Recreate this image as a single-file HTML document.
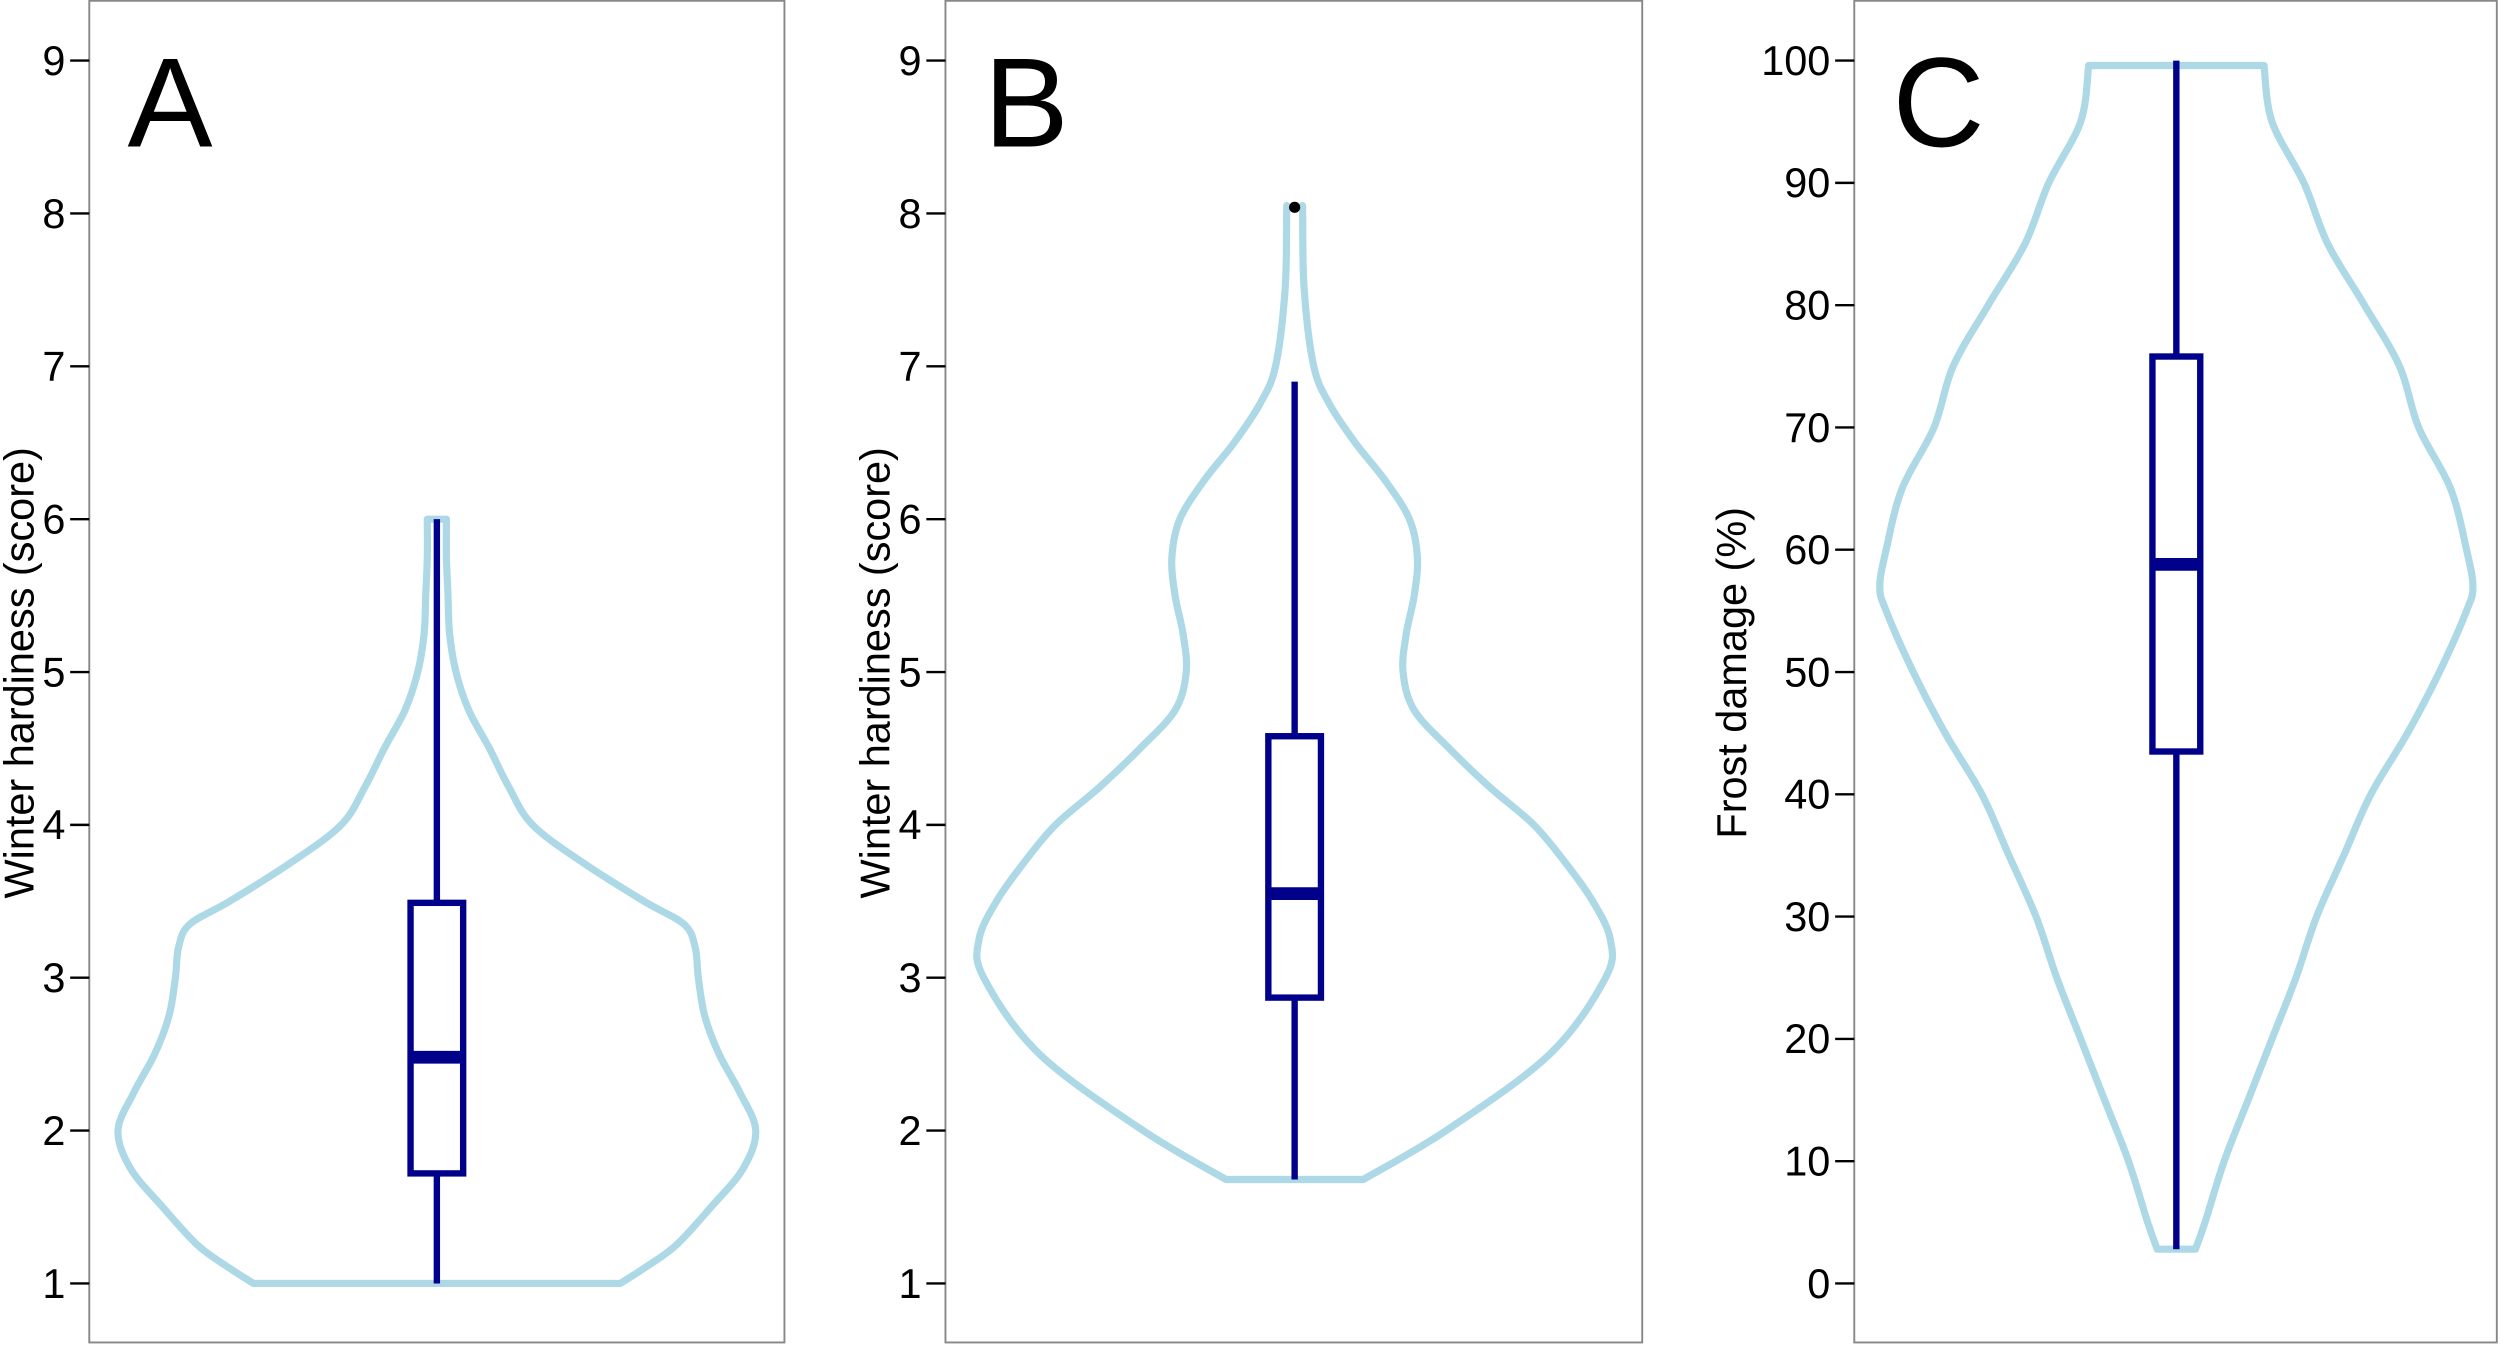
<!DOCTYPE html>
<html><head><meta charset="utf-8"><style>
html,body{margin:0;padding:0;background:#fff;}
svg{display:block;}
text{font-family:"Liberation Sans",Arial,sans-serif;fill:#000;}
</style></head><body>
<svg id="chart" xmlns="http://www.w3.org/2000/svg" width="2500" height="1345" viewBox="0 0 1568 843.6" preserveAspectRatio="none"></svg>
<script>
// Panel A data
const aTicks = [1,2,3,4,5,6,7,8,9];
const aY = [1,1.1,1.25,1.5,1.75,2,2.25,2.5,2.75,3,3.2,3.35,3.5,3.75,4,4.25,4.5,4.75,5,5.25,5.5,5.75,6];
const aDens = [115,130,150,172,192,200,190,177,168,164,162,155,130,92,60,45,33,20,12,8,7,6,6];
const aBox = [1,1.72,2.48,3.49,6];
const aOut = [];
// Panel B data
const bTicks = [1,2,3,4,5,6,7,8,9];
const bY = [1.68,2,2.5,3,3.25,3.5,3.75,4,4.25,4.5,4.75,5,5.25,5.5,5.75,6,6.25,6.5,6.75,7,7.5,8,8.04];
const bDens = [43,95,160,195,198,187,170,150,122,97,75,68,70,75,77,72,57,38,22,12,6,5,5];
const bBox = [1.68,2.87,3.55,4.58,6.9];
const bOut = [8.04];
// Panel C data
const cTicks = [0,10,20,30,40,50,60,70,80,90,100];
const cY = [2.8,5,10,15,20,25,30,35,40,45,50,55,57,60,65,70,75,80,85,90,95,99.6];
const cDens = [12,18,30,45,60,75,88,105,122,145,165,182,186,182,172,152,140,118,95,80,60,55];
const cBox = [2.8,43.5,58.8,75.8,100];
const cOut = [];

const NS="http://www.w3.org/2000/svg";
const svg=document.getElementById('chart');
function el(tag,attrs,parent){const e=document.createElementNS(NS,tag);for(const k in attrs)e.setAttribute(k,attrs[k]);(parent||svg).appendChild(e);return e;}

const panels=[
 {letter:'A',left:56,right:492,cx:274,ticks:aTicks,min:1,max:9,ys:aY,dens:aDens,box:aBox,out:aOut,title:'Winter hardiness (score)',tx:12,bw:16.5},
 {letter:'B',left:593,right:1030,cx:812,ticks:bTicks,min:1,max:9,ys:bY,dens:bDens,box:bBox,out:bOut,title:'Winter hardiness (score)',tx:549,bw:16.5},
 {letter:'C',left:1163,right:1566,cx:1365,ticks:cTicks,min:0,max:100,ys:cY,dens:cDens,box:cBox,out:cOut,title:'Frost damage (%)',tx:1086,bw:15}
];
function smooth(pts){let d='M'+pts[0][0]+','+pts[0][1];for(let i=0;i<pts.length-1;i++){const p0=pts[Math.max(0,i-1)],p1=pts[i],p2=pts[i+1],p3=pts[Math.min(pts.length-1,i+2)];
 d+=' C'+(p1[0]+(p2[0]-p0[0])/6)+','+(p1[1]+(p2[1]-p0[1])/6)+' '+(p2[0]-(p3[0]-p1[0])/6)+','+(p2[1]-(p3[1]-p1[1])/6)+' '+p2[0]+','+p2[1];}return d;}

panels.forEach(p=>{
 const g=el('g',{});
 
 
 const yS=v=>805-(v-p.min)/(p.max-p.min)*767;
 const frame=el('rect',{x:p.left,y:0.5,width:p.right-p.left,height:841.5,fill:'none',stroke:'#888','stroke-width':1.2},g);
 
 
 p.ticks.forEach(t=>{
  const y=yS(t);
  const tk=el('line',{x1:p.left-12,x2:p.left,y1:y,y2:y,stroke:'#000','stroke-width':1.5},g);
  
  
  const lb=el('text',{x:p.left-15,y:y+9,'text-anchor':'end','font-size':26},g);
  lb.textContent=t;
  
  
 });
 const tt=el('text',{x:0,y:0,'text-anchor':'middle','font-size':26,transform:'translate('+(p.tx+9)+',422) rotate(-90)'},g);
 tt.textContent=p.title;
 
 
 const L=el('text',{x:p.left+24,y:92,'font-size':80},g);
 L.textContent=p.letter;
 
 
 // violin
 const right=p.ys.map((v,i)=>[p.cx+p.dens[i],yS(v)]);
 const left=p.ys.map((v,i)=>[p.cx-p.dens[i],yS(v)]).reverse();
 let d=smooth(right)+' L'+left[0][0]+','+left[0][1]+' '+smooth(left).slice(1).replace(/^[^C]*/,'')+' Z';
 const vi=el('path',{d:d,fill:'none',stroke:'#ADD8E6','stroke-width':4.5,'stroke-linejoin':'round'},g);
 
 
 // box
 const b=p.box;
 const wh=el('line',{x1:p.cx,x2:p.cx,y1:yS(b[0]),y2:yS(b[4]),stroke:'#00008B','stroke-width':4},g);
 
 
 const bx=el('rect',{x:p.cx-p.bw,y:yS(b[3]),width:2*p.bw,height:yS(b[1])-yS(b[3]),fill:'#fff',stroke:'#00008B','stroke-width':4},g);
 
 
 const md=el('line',{x1:p.cx-p.bw,x2:p.cx+p.bw,y1:yS(b[2]),y2:yS(b[2]),stroke:'#00008B','stroke-width':8},g);
 
 
 p.out.forEach(o=>{
  const c=el('circle',{cx:p.cx,cy:yS(o),r:3.5,fill:'#000'},g);
  
  
 });
});
</script>
</body></html>
